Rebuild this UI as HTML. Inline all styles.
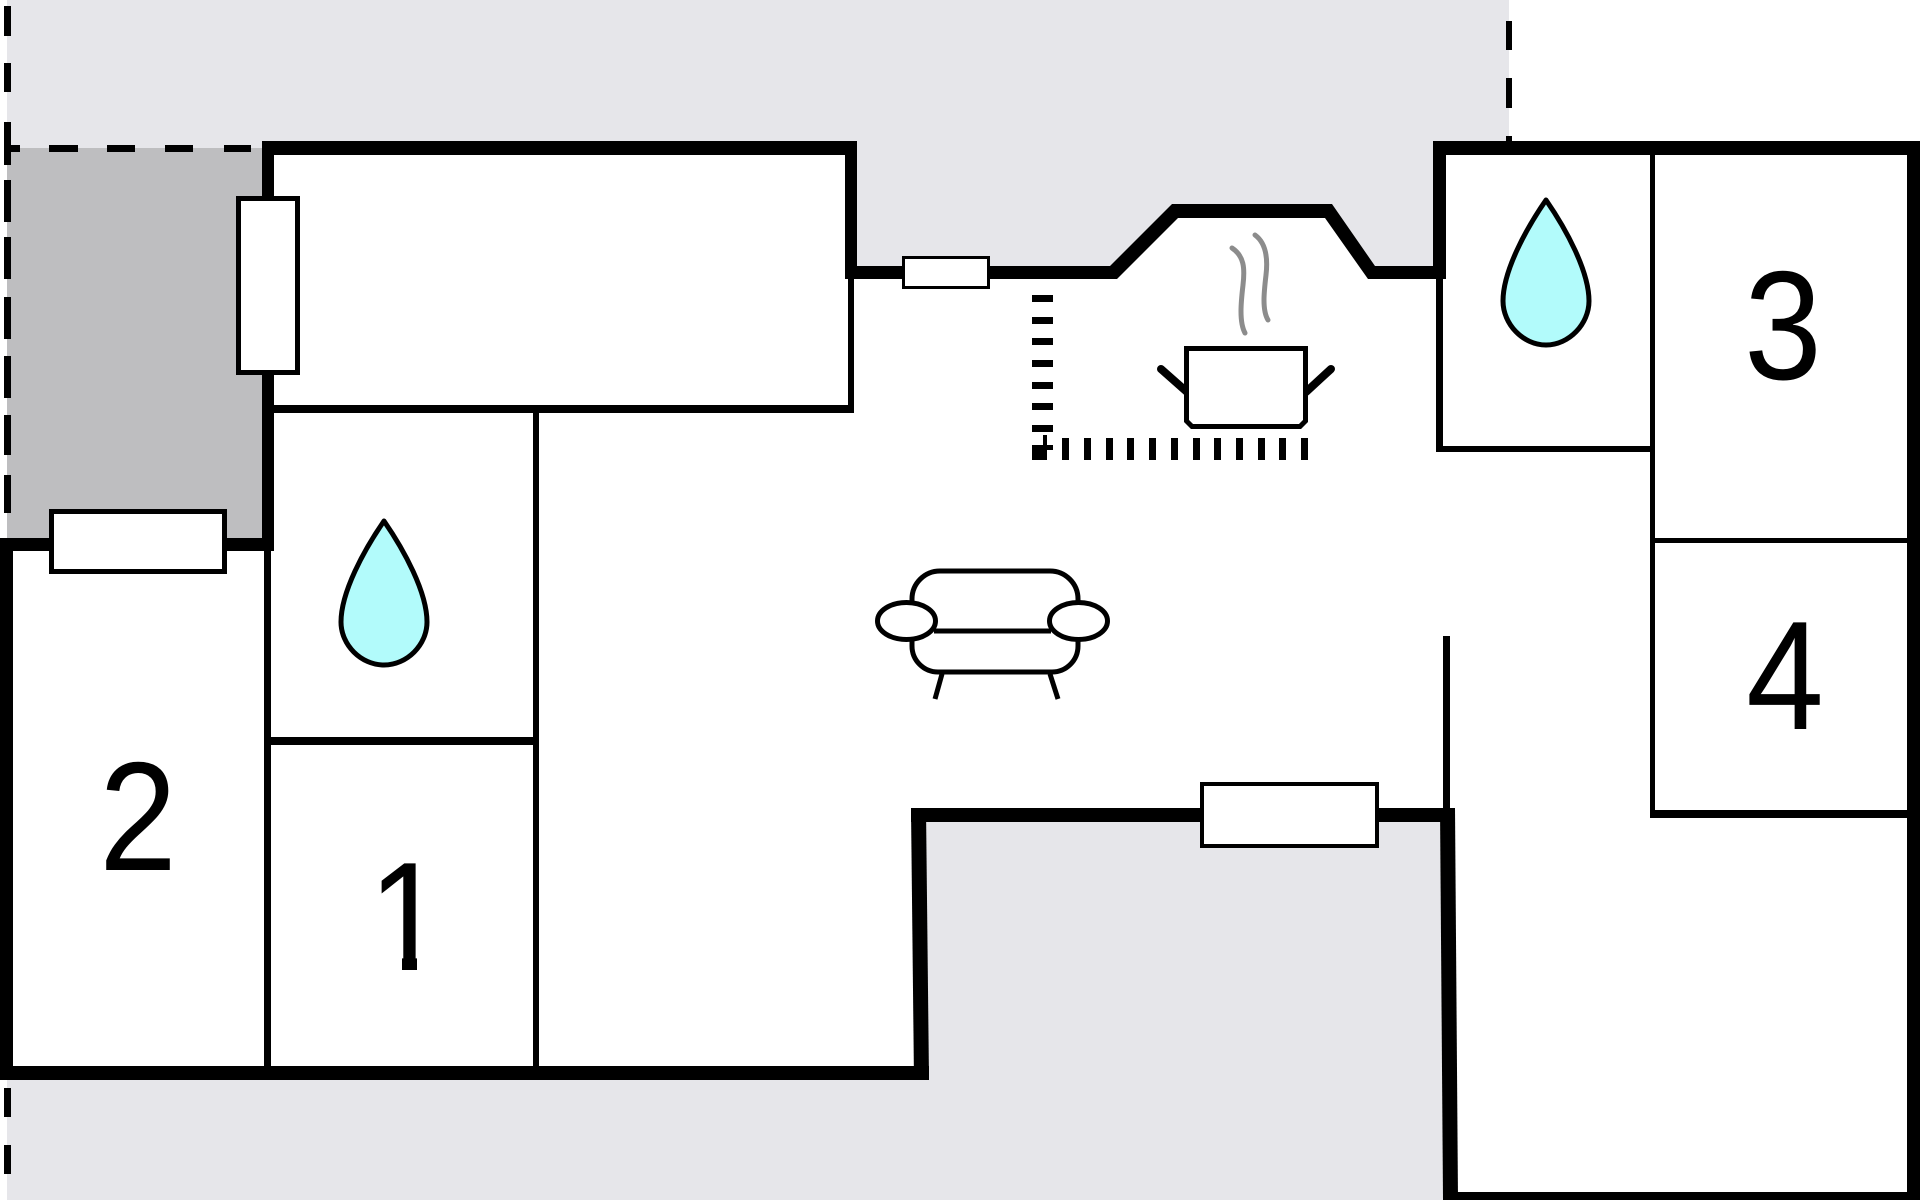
<!DOCTYPE html>
<html>
<head>
<meta charset="utf-8">
<style>
  html,body{margin:0;padding:0;background:#fff;}
  svg{display:block;}
  text{font-family:"Liberation Sans", Arial, sans-serif;}
</style>
</head>
<body>
<svg width="1920" height="1200" viewBox="0 0 1920 1200" xmlns="http://www.w3.org/2000/svg">
  <!-- background areas -->
  <rect x="0" y="0" width="1920" height="1200" fill="#ffffff"/>
  <rect x="7" y="0" width="1502" height="1200" fill="#e6e6ea"/>
  <rect x="7" y="148" width="255" height="390" fill="#bebec0"/>

  <!-- house interior -->
  <polygon points="262,141 857,141 857,266 1110,266 1172,204 1332,204 1375,266 1433,266 1433,141 1920,141 1920,1200 1443,1200 1440,808 911,808 914,1080 0,1080 0,538 262,538" fill="#ffffff"/>

  <!-- dashed boundary lines -->
  <g fill="#000">
    <rect x="4" y="6" width="7" height="30"/>
    <rect x="4" y="63" width="7" height="29"/>
    <rect x="4" y="122" width="7" height="43"/>
    <rect x="4" y="180" width="7" height="42"/>
    <rect x="4" y="237" width="7" height="42"/>
    <rect x="4" y="297" width="7" height="42"/>
    <rect x="4" y="356" width="7" height="42"/>
    <rect x="4" y="415" width="7" height="40"/>
    <rect x="4" y="475" width="7" height="38"/>
    <rect x="4" y="1088" width="7" height="29"/>
    <rect x="4" y="1145" width="7" height="29"/>
    <rect x="4" y="145" width="16" height="7"/>
    <rect x="49" y="145" width="29" height="7"/>
    <rect x="107" y="145" width="28" height="7"/>
    <rect x="165" y="145" width="28" height="7"/>
    <rect x="224" y="145" width="27" height="7"/>
    <rect x="1506" y="21" width="6" height="29"/>
    <rect x="1506" y="78" width="6" height="30"/>
    <rect x="1506" y="136" width="6" height="6"/>
  </g>

  <!-- thick walls -->
  <g fill="#000">
    <rect x="262" y="141" width="595" height="14"/>
    <rect x="262" y="141" width="12" height="410"/>
    <rect x="845" y="141" width="12" height="138"/>
    <polygon points="845,266 1110,266 1172,204 1332,204 1375,266 1446,266 1446,279 1368,279 1325,218 1178,218 1117,279 845,279"/>
    <rect x="1433" y="141" width="13" height="138"/>
    <rect x="1433" y="141" width="487" height="14"/>
    <rect x="1907" y="141" width="13" height="1059"/>
    <rect x="1443" y="1192" width="477" height="8"/>
    <polygon points="1440,808 1455,808 1458,1200 1443,1200"/>
    <rect x="911" y="808" width="544" height="14"/>
    <polygon points="911,808 926,808 929,1080 914,1080"/>
    <rect x="0" y="1066" width="929" height="14"/>
    <rect x="0" y="538" width="13" height="542"/>
    <rect x="0" y="538" width="274" height="13"/>
  </g>

  <!-- thin walls -->
  <g fill="#000">
    <rect x="848" y="279" width="6" height="134"/>
    <rect x="262" y="405" width="592" height="8"/>
    <rect x="533" y="405" width="6" height="675"/>
    <rect x="264" y="551" width="7" height="529"/>
    <rect x="271" y="737" width="262" height="8"/>
    <rect x="1436" y="279" width="7" height="173"/>
    <rect x="1436" y="446" width="219" height="6"/>
    <rect x="1650" y="141" width="5" height="677"/>
    <rect x="1655" y="538" width="252" height="5"/>
    <rect x="1650" y="810" width="257" height="8"/>
    <rect x="1443" y="636" width="7" height="172"/>
  </g>

  <!-- windows -->
  <g fill="#fff" stroke="#000">
    <rect x="238.5" y="198.5" width="59" height="174" stroke-width="5"/>
    <rect x="51.5" y="511.5" width="173" height="60" stroke-width="5"/>
    <rect x="903.5" y="257.5" width="85" height="30" stroke-width="3"/>
    <rect x="1202" y="784" width="175" height="62" stroke-width="4"/>
  </g>

  <!-- water drops -->
  <g fill="#b2fbfb" stroke="#000" stroke-width="5" stroke-linejoin="round">
    <path d="M384,521 C404,550 427,592 427,622 C427,645 407,665 384,665 C361,665 341,645 341,622 C341,592 364,550 384,521 Z"/>
    <path d="M1546,200 C1566,229 1589,271 1589,301 C1589,324 1569,345 1546,345 C1523,345 1503,324 1503,301 C1503,271 1526,229 1546,200 Z"/>
  </g>

  <!-- kitchen counter (dotted L) -->
  <g fill="#000">
    <rect x="1032" y="295" width="21" height="7"/>
    <rect x="1032" y="317" width="21" height="7"/>
    <rect x="1032" y="338" width="21" height="7"/>
    <rect x="1032" y="360" width="21" height="7"/>
    <rect x="1032" y="382" width="21" height="7"/>
    <rect x="1032" y="403" width="21" height="7"/>
    <rect x="1032" y="425" width="21" height="7"/>
    <rect x="1032" y="445" width="11" height="15"/>
    <rect x="1032" y="445" width="21" height="5"/>
    <rect x="1043" y="435" width="4" height="25"/>
    <rect x="1062" y="438" width="7" height="22"/>
    <rect x="1084" y="438" width="7" height="22"/>
    <rect x="1106" y="438" width="7" height="22"/>
    <rect x="1127" y="438" width="7" height="22"/>
    <rect x="1149" y="438" width="7" height="22"/>
    <rect x="1171" y="438" width="7" height="22"/>
    <rect x="1193" y="438" width="7" height="22"/>
    <rect x="1214" y="438" width="7" height="22"/>
    <rect x="1236" y="438" width="7" height="22"/>
    <rect x="1258" y="438" width="7" height="22"/>
    <rect x="1279" y="438" width="7" height="22"/>
    <rect x="1301" y="438" width="7" height="22"/>
  </g>

  <!-- pot -->
  <g stroke="#000" stroke-linecap="round">
    <line x1="1161" y1="369" x2="1187" y2="392" stroke-width="8"/>
    <line x1="1331" y1="369" x2="1306" y2="392" stroke-width="8"/>
    <path d="M1186.5,348.5 L1305.5,348.5 L1305.5,421 L1300,426.5 L1192,426.5 L1186.5,421 Z" fill="#fff" stroke-width="5" stroke-linejoin="miter"/>
  </g>
  <g fill="none" stroke="#8c8c8c" stroke-width="5" stroke-linecap="round">
    <path d="M1232,248 C1244,256 1245,268 1243,285 C1241,302 1239,322 1245,333"/>
    <path d="M1255,235 C1266,243 1268,258 1266,275 C1264,292 1262,310 1268,320"/>
  </g>

  <!-- sofa -->
  <g fill="none" stroke="#000" stroke-width="5" stroke-linecap="butt">
    <path d="M912,606 L912,599 A28,28 0 0 1 940,571 L1050,571 A28,28 0 0 1 1078,599 L1078,606"/>
    <path d="M912,636 L912,646 A26,26 0 0 0 938,672 L1052,672 A26,26 0 0 0 1078,646 L1078,636"/>
    <line x1="934" y1="631" x2="1051" y2="631"/>
    <line x1="942" y1="674" x2="935" y2="699"/>
    <line x1="1050" y1="674" x2="1058" y2="699"/>
    <ellipse cx="906.5" cy="621" rx="29" ry="18.5" fill="#fff"/>
    <ellipse cx="1078.5" cy="621" rx="29" ry="18.5" fill="#fff"/>
  </g>

  <!-- room numbers -->
  <g fill="#000" font-size="155" text-anchor="middle">
    <text transform="translate(138,870) scale(0.9,1)">2</text>
    <text transform="translate(407,970) scale(0.9,1)">1</text>
    <text transform="translate(1783,379) scale(0.9,1)">3</text>
    <text transform="translate(1785,729) scale(0.9,1)">4</text>
  </g>
  <!-- hide foot serif of the "1" to match sans design -->
  <g fill="#fff">
    <rect x="360" y="952" width="42" height="22"/>
    <rect x="417" y="952" width="37" height="22"/>
  </g>
</svg>
</body>
</html>
